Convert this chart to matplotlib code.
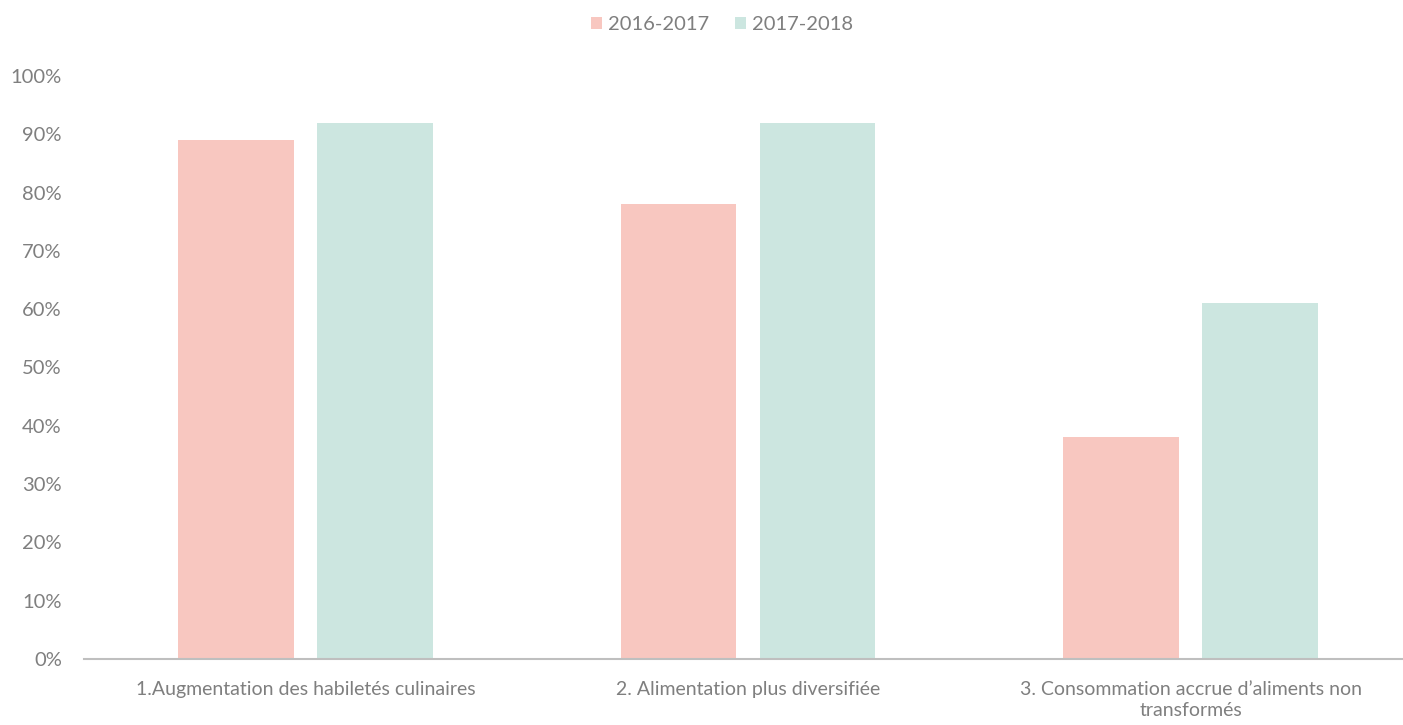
import numpy as np
import matplotlib.pyplot as plt

plt.rcParams['font.family'] = ['Lato', 'DejaVu Sans']

# Données
categories = ['1.Augmentation des habiletés culinaires',
              '2. Alimentation plus diversifiée',
              '3. Consommation accrue d’aliments non\ntransformés']
series_names = ['2016-2017', '2017-2018']
vals_2016 = [0.89, 0.78, 0.38]
vals_2017 = [0.92, 0.92, 0.61]
yticks = [0, 0.1, 0.2, 0.3, 0.4, 0.5, 0.6, 0.7, 0.8, 0.9, 1.0]

pink = '#F8C7C0'
green = '#CCE6E0'
grey = '#7F7F7F'

fig = plt.figure(figsize=(14.03, 7.25), dpi=100)
ax = fig.add_axes([84 / 1403, 66 / 725, 1328 / 1403, 583 / 725])

x = np.arange(len(categories))
w = 0.262
ax.bar(x - 0.157, vals_2016, w, color=pink, label=series_names[0])
ax.bar(x + 0.157, vals_2017, w, color=green, label=series_names[1])

ax.set_xlim(-0.5, 2.5)
ax.set_ylim(0, 1)
ax.set_yticks(yticks)
ax.set_yticklabels([f'{int(round(t * 100))}%' for t in yticks])
ax.set_xticks(x)
ax.set_xticklabels(categories, linespacing=1.3)

ax.tick_params(axis='y', length=0, pad=16, labelsize=14.5, labelcolor=grey)
ax.tick_params(axis='x', length=0, pad=16, labelsize=14, labelcolor=grey)

for s in ['top', 'right', 'left']:
    ax.spines[s].set_visible(False)
ax.spines['bottom'].set_color('#BFBFBF')
ax.spines['bottom'].set_linewidth(1.5)

fig.legend(loc='center', bbox_to_anchor=(722 / 1403, 1 - 25 / 725), ncol=2,
           frameon=False, fontsize=14.5, labelcolor=grey,
           handlelength=0.55, handleheight=0.55, handletextpad=0.3, columnspacing=1.3)

plt.savefig('out.png', dpi=100)
